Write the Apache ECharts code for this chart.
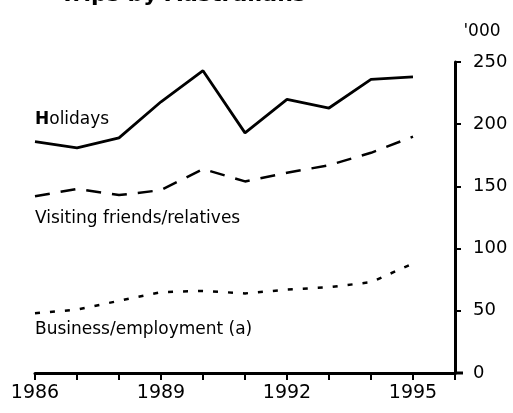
<!DOCTYPE html>
<html>
<head>
<meta charset="utf-8">
<script src="https://cdn.jsdelivr.net/npm/echarts@6/dist/echarts.min.js"></script>
<style>
  html, body { margin: 0; padding: 0; background: #fff; }
  #chart { width: 513px; height: 413px; }
</style>
</head>
<body>
<div id="chart"></div>
<script>
// years on the x axis
const years = [1986, 1987, 1988, 1989, 1990, 1991, 1992, 1993, 1994, 1995];
// values in '000
const holidays = [186, 181, 189, 218, 243, 193, 220, 213, 236, 238];
const visiting = [142, 148, 143, 147, 164, 154, 161, 167, 177, 190];
const business = [48, 51, 58, 65, 66, 64, 67, 69, 73, 88];
const yearLabels = [1986, 1989, 1992, 1995];

const chart = echarts.init(document.getElementById('chart'));
const font = 'DejaVu Sans';

function pairs(vals) {
  return years.map((y, i) => [y, vals[i]]);
}

const option = {
  animation: false,
  grid: { left: 35, right: 58, top: 62, bottom: 40 },
  xAxis: {
    type: 'value',
    min: 1986,
    max: 1996,
    interval: 1,
    splitLine: { show: false },
    axisLine: { lineStyle: { color: '#000', width: 3 } },
    axisTick: { inside: false, length: 7, lineStyle: { color: '#000', width: 2 } },
    axisLabel: {
      color: '#000',
      fontFamily: font,
      fontSize: 19,
      margin: 11,
      formatter: v => (yearLabels.indexOf(v) >= 0 ? String(v) : '')
    }
  },
  yAxis: {
    type: 'value',
    position: 'right',
    min: 0,
    max: 250,
    interval: 50,
    splitLine: { show: false },
    axisLine: { show: true, lineStyle: { color: '#000', width: 3 } },
    axisTick: { show: true, inside: false, length: 6, lineStyle: { color: '#000', width: 2 } },
    axisLabel: { color: '#000', fontFamily: font, fontSize: 18, margin: 18 }
  },
  series: [
    {
      type: 'line',
      data: pairs(holidays),
      symbol: 'none',
      lineStyle: { color: '#000', width: 2.8 }
    },
    {
      type: 'line',
      data: pairs(visiting),
      symbol: 'none',
      lineStyle: { color: '#000', width: 2.5, type: [15, 11] }
    },
    {
      type: 'line',
      data: pairs(business),
      symbol: 'none',
      lineStyle: { color: '#000', width: 2.5, type: [5, 10] }
    }
  ],
  graphic: [
    {
      type: 'text', left: 60, top: -16,
      style: { text: 'Trips by Australians', font: 'bold 22px ' + font, fill: '#000' }
    },
    {
      type: 'text', x: 482, y: 32,
      style: { text: "'000", font: '17px ' + font, fill: '#000', align: 'center', verticalAlign: 'middle' }
    },
    {
      type: 'line',
      shape: { x1: 455, y1: 373, x2: 463, y2: 373 },
      style: { stroke: '#000', lineWidth: 3 }
    },
    {
      type: 'text', x: 35, y: 120,
      style: {
        text: '{b|H}olidays',
        font: '17px ' + font, fill: '#000', verticalAlign: 'middle',
        rich: { b: { fontFamily: font, fontSize: 17, fontWeight: 'bold', fill: '#000' } }
      }
    },
    {
      type: 'text', x: 35, y: 219,
      style: { text: 'Visiting friends/relatives', font: '17px ' + font, fill: '#000', verticalAlign: 'middle' }
    },
    {
      type: 'text', x: 35, y: 330,
      style: { text: 'Business/employment (a)', font: '17px ' + font, fill: '#000', verticalAlign: 'middle' }
    }
  ]
};

chart.setOption(option);
</script>
</body>
</html>
